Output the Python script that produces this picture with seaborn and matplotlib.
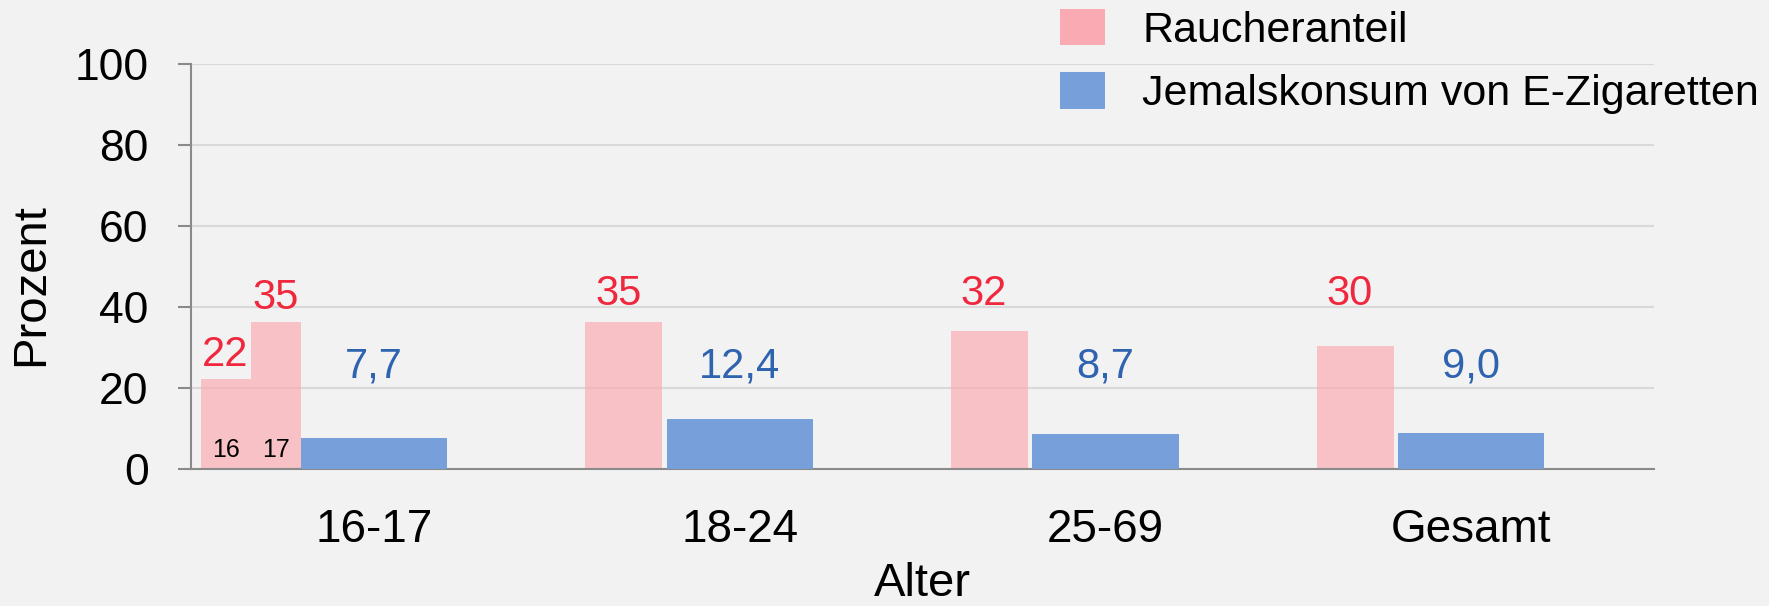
"""Raucheranteil und Jemalskonsum von E-Zigaretten nach Alter."""

import matplotlib.pyplot as plt
import seaborn as sns
from matplotlib.patches import Patch

# Data
categories = ["16-17", "18-24", "25-69", "Gesamt"]
ages_1617 = ["16", "17"]
smoker_1617 = [22.2, 36.3]
smoker_1617_labels = ["22", "35"]
smoker_rest = [36.3, 34.0, 30.4]
smoker_rest_labels = ["35", "32", "30"]
ecig = [7.7, 12.4, 8.7, 9.0]
ecig_labels = ["7,7", "12,4", "8,7", "9,0"]

BG = "#F2F2F2"
PINK = "#FAAAB2"
BLUE = "#779FD9"
RED_TXT = "#F0283E"
BLUE_TXT = "#2E63B0"
AXIS_GREY = "#8A8A8A"

sns.set_style("whitegrid", {
    "axes.facecolor": BG,
    "figure.facecolor": BG,
    "grid.color": "#D9D9D9",
    "text.color": "black",
    "xtick.color": "black",
    "ytick.color": "black",
})
plt.rcParams["font.family"] = ["Liberation Sans", "DejaVu Sans"]

fig = plt.figure(figsize=(17.69, 6.06), dpi=100)
ax = fig.add_axes([0.108, 0.226, 0.827, 0.668])

# E-cigarette bars, centred on each category
sns.barplot(x=categories, y=ecig, color=BLUE, width=0.4, saturation=1,
            errorbar=None, linewidth=0, ax=ax, zorder=3)

# Smoker bars to the left of the blue ones
sub_w = 0.137
for i, (val, age) in enumerate(zip(smoker_1617, ages_1617)):
    xc = -0.2 - sub_w * (len(smoker_1617) - i) + sub_w / 2
    ax.bar(xc, val, width=sub_w, color=PINK, alpha=0.68, linewidth=0, zorder=2)
    ax.text(xc, 3, age, ha="center", va="baseline", fontsize=18,
            color="black", zorder=4)
    ax.text(xc, val + 3.3, smoker_1617_labels[i], ha="center", va="baseline",
            fontsize=30, color=RED_TXT, zorder=4)

rest_w = 0.21
for i, (val, lab) in enumerate(zip(smoker_rest, smoker_rest_labels), start=1):
    xc = i - 0.2 - 0.012 - rest_w / 2
    ax.bar(xc, val, width=rest_w, color=PINK, alpha=0.68, linewidth=0, zorder=2)
    ax.text(xc - 0.015, 40.5, lab, ha="center", va="baseline",
            fontsize=30, color=RED_TXT, zorder=4)

for i, lab in enumerate(ecig_labels):
    ax.text(i, 22.5, lab, ha="center", va="baseline", fontsize=30,
            color=BLUE_TXT, zorder=4)

ax.set_xlim(-0.5, 3.5)
ax.set_ylim(0, 100)
ax.set_yticks([0, 20, 40, 60, 80, 100])
ax.grid(axis="x", visible=False)
ax.grid(axis="y", linewidth=1.5)
ax.set_axisbelow(True)

for side in ["top", "right"]:
    ax.spines[side].set_visible(False)
for side in ["left", "bottom"]:
    ax.spines[side].set_visible(True)
    ax.spines[side].set_color(AXIS_GREY)
    ax.spines[side].set_linewidth(1.5)

ax.tick_params(axis="y", left=True, length=9.5, width=1.5, color=AXIS_GREY,
               labelcolor="black", pad=21, labelsize=32)
ax.tick_params(axis="x", bottom=False, length=0, pad=28, labelsize=33,
               labelcolor="black")
ax.set_xlabel("")
ax.set_ylabel("")

fig.text(31 / 1769, 1 - 285 / 606, "Prozent", rotation=90, ha="center",
         va="center", fontsize=34, color="black")
fig.text(922 / 1769, 0.0, "Alter", ha="center", va="bottom", fontsize=34,
         color="black")

handles = [Patch(facecolor=PINK, edgecolor="none", label="Raucheranteil"),
           Patch(facecolor=BLUE, edgecolor="none",
                 label="Jemalskonsum von E-Zigaretten")]
fig.legend(handles=handles, loc="upper left",
           bbox_to_anchor=(1060 / 1769, 1 - 8.5 / 606), frameon=False,
           fontsize=31, handlelength=1.05, handleheight=0.93,
           handletextpad=0.86, labelspacing=0.5, borderpad=0,
           borderaxespad=0, labelcolor="black")

plt.savefig("out.png", dpi=100, facecolor=BG)
plt.close()
